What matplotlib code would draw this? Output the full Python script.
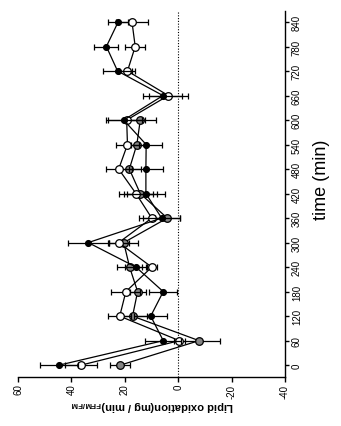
import matplotlib
matplotlib.use("Agg")
import matplotlib.pyplot as plt
import numpy as np

plt.rcParams['font.family'] = ['Liberation Sans', 'DejaVu Sans']
plt.rcParams['mathtext.fontset'] = 'custom'
plt.rcParams['mathtext.rm'] = 'Liberation Sans:bold'
plt.rcParams['mathtext.bf'] = 'Liberation Sans:bold'

time = [0, 60, 120, 180, 240, 300, 360, 420, 480, 540, 600, 660, 720, 780, 840]
black = [44.6, 5.6, 10.3, 5.6, 15.8, 33.7, 6.2, 12.1, 12.1, 12.0, 20.4, 5.7, 22.7, 26.9, 22.5]
black_err = [7.2, 6.8, 6.2, 5.2, 4.0, 7.4, 6.8, 7.0, 6.3, 5.8, 6.8, 7.3, 5.4, 4.5, 3.7]
white = [36.4, -0.4, 21.9, 19.6, 9.9, 22.3, 9.9, 15.8, 22.3, 19.0, 19.3, 3.7, 19.0, 16.1, 17.3]
white_err = [6.0, 2.0, 4.3, 5.4, 2.1, 3.7, 4.6, 6.5, 4.9, 4.2, 7.0, 7.4, 3.0, 3.7, 6.0]
gray_time = [0, 60, 120, 180, 240, 300, 360, 420, 480, 540, 600]
gray = [21.7, -7.8, 17.1, 15.2, 18.2, 20.4, 4.1, 14.2, 18.3, 15.5, 14.2]
gray_err = [3.7, 7.7, 5.6, 3.0, 4.7, 5.5, 4.7, 6.2, 4.3, 3.5, 5.8]

value_ticks = [60, 40, 20, 0, -20, -40]
time_ticks = [0, 60, 120, 180, 240, 300, 360, 420, 480, 540, 600, 660, 720, 780, 840]

W, H = 341, 427
fig = plt.figure(figsize=(W / 100, H / 100), dpi=100)
ax = fig.add_axes([18 / W, (H - 378) / H, 267 / W, 366 / H])

ax.axvline(0, color='black', linestyle=(0, (1, 1.5)), linewidth=0.8, zorder=1)

common = dict(color='black', linewidth=0.9, elinewidth=0.9, capsize=2.4, capthick=0.9,
              markeredgecolor='black', markeredgewidth=0.9)
ax.errorbar(gray, gray_time, xerr=gray_err, fmt='-o', markerfacecolor='#858585',
            markersize=5.5, zorder=3, **common)
ax.errorbar(white, time, xerr=white_err, fmt='-o', markerfacecolor='white',
            markersize=5.5, zorder=4, **common)
ax.errorbar(black, time, xerr=black_err, fmt='-o', markerfacecolor='black',
            markersize=4.2, zorder=5, **common)

ax.set_xlim(60, -40)
ax.set_ylim(-29, 867)
ax.set_xticks(value_ticks)
ax.set_xticklabels([str(v) for v in value_ticks], rotation=90, fontsize=7)
ax.set_yticks(time_ticks)
ax.set_yticklabels([str(t) for t in time_ticks], rotation=90, fontsize=7, va='center')
ax.yaxis.tick_right()

for s in ['top', 'left']:
    ax.spines[s].set_visible(False)
for s in ['bottom', 'right']:
    ax.spines[s].set_linewidth(1.0)
ax.tick_params(axis='x', direction='out', length=3.5, width=1.0, pad=1.2)
ax.tick_params(axis='y', direction='out', length=3, width=1.0, pad=2)

fig.text(152 / W, 1 - 406 / H, r'Lipid oxidation(mg / min)$_{\mathrm{FFM/FM}}$',
         rotation=180, ha='center', va='center', fontsize=8, fontweight='bold')
fig.text(322 / W, 1 - 180 / H, 'time (min)', rotation=90, ha='center', va='center',
         fontsize=13)

fig.savefig('out.png', dpi=100)
